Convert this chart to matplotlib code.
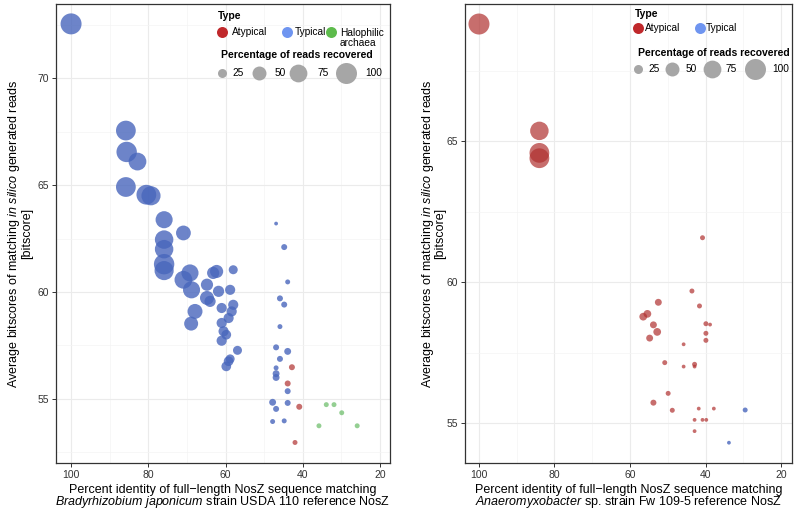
import numpy as np
import matplotlib
matplotlib.use("Agg")
import matplotlib.pyplot as plt
from matplotlib.ticker import MultipleLocator

plt.rcParams["font.family"] = ["Liberation Sans", "DejaVu Sans"]
plt.rcParams["mathtext.fontset"] = "custom"
plt.rcParams["mathtext.rm"] = "Liberation Sans"
plt.rcParams["mathtext.it"] = "Liberation Sans:italic"

# ---- left panel: Bradyrhizobium japonicum reference ----
left_typ_x = [100, 85.8, 85.6, 82.8, 85.8, 80.5, 79.3, 75.9, 70.9, 75.9, 75.9, 75.9, 75.9,
              69.2, 70.9, 62.3, 63.2, 58.0, 68.8, 64.8, 61.8, 58.8, 64.8, 64.0, 67.9, 68.9,
              61.0, 58.0, 58.4, 59.2, 61.0, 60.5, 59.8, 61.0, 56.9, 58.8, 59.2, 59.8,
              46.9, 44.8, 43.9, 45.9, 44.8, 45.9, 46.9, 43.9, 45.9, 46.9, 46.9, 46.9,
              43.9, 47.8, 43.9, 46.9, 47.8, 44.8]
left_typ_y = [72.54, 67.55, 66.55, 66.1, 64.91, 64.55, 64.5, 63.38, 62.76, 62.45, 62.0, 61.3, 61.0,
              60.89, 60.57, 60.96, 60.89, 61.04, 60.1, 60.34, 60.03, 60.1, 59.72, 59.56, 59.09, 58.52,
              59.25, 59.4, 59.09, 58.78, 58.55, 58.16, 58.0, 57.72, 57.27, 56.87, 56.76, 56.52,
              63.2, 62.1, 60.47, 59.7, 59.41, 58.38, 57.41, 57.22, 56.87, 56.45, 56.18, 56.0,
              55.36, 54.84, 54.81, 54.53, 53.94, 53.97]
left_typ_pct = [100, 90, 95, 75, 90, 90, 85, 70, 55, 80, 80, 95, 85,
                70, 75, 45, 40, 25, 70, 40, 35, 30, 50, 35, 56, 50,
                30, 30, 30, 30, 30, 30, 28, 30, 25, 25, 28, 28,
                8, 14, 11, 14, 14, 11, 14, 17, 14, 11, 17, 17,
                14, 17, 14, 14, 11, 11]

left_atyp_x = [42.8, 43.9, 40.9, 42.0]
left_atyp_y = [56.48, 55.72, 54.63, 52.96]
left_atyp_pct = [14, 14, 14, 11]

left_halo_x = [33.9, 31.9, 29.9, 35.8, 25.9]
left_halo_y = [54.73, 54.73, 54.35, 53.74, 53.74]
left_halo_pct = [11, 11, 11, 11, 11]

# ---- right panel: Anaeromyxobacter reference ----
right_atyp_x = [100, 84, 84, 84, 40.8, 43.6, 52.5, 41.6, 56.5, 55.4, 53.8, 39.9, 38.8, 52.8,
                39.9, 54.8, 39.9, 45.8, 50.8, 45.8, 42.9, 42.9, 49.9, 53.8, 48.8, 41.8,
                37.8, 42.9, 40.8, 39.8, 42.9]
right_atyp_y = [69.16, 65.37, 64.59, 64.4, 61.58, 59.69, 59.29, 59.16, 58.78, 58.88, 58.49,
                58.53, 58.5, 58.24, 58.19, 58.02, 57.94, 57.8, 57.15, 57.01, 57.09, 57.01,
                56.06, 55.73, 55.46, 55.52, 55.52, 55.12, 55.12, 55.12, 54.72]
right_atyp_pct = [100, 80, 90, 90, 11, 11, 17, 11, 20, 20, 17, 11, 8, 20,
                  11, 17, 11, 8, 11, 8, 11, 8, 11, 14, 11, 8,
                  8, 8, 8, 8, 8]

right_typ_x = [29.5, 33.8]
right_typ_y = [55.47, 54.31]
right_typ_pct = [11, 8]

size_breaks = [25, 50, 75, 100]

point_colors = {"Atypical": "#B0302F", "Typical": "#4866BC", "Halophilic": "#4DAF4A"}
point_alpha = {"Atypical": 0.7, "Typical": 0.8, "Halophilic": 0.6}
key_colors = {"Atypical": "#C0282B", "Typical": "#6F95F0", "Halophilic": "#5DBB4C"}


def diam_px(pct):
    return -3 + 2.4 * np.sqrt(np.asarray(pct, dtype=float))


def area_pt(pct):
    return (diam_px(pct) * 0.72) ** 2


fig = plt.figure(figsize=(8, 5.13), dpi=100)
W, H = 800, 513
ax_l = fig.add_axes([56 / W, 50 / H, 334 / W, 459 / H])
ax_r = fig.add_axes([465 / W, 50 / H, 327 / W, 459 / H])


def draw(ax, groups):
    for kind, xs, ys, pct in groups:
        ax.scatter(xs, ys, s=area_pt(pct), color=point_colors[kind],
                   alpha=point_alpha[kind], linewidths=0, zorder=3)


draw(ax_l, [("Typical", left_typ_x, left_typ_y, left_typ_pct),
            ("Atypical", left_atyp_x, left_atyp_y, left_atyp_pct),
            ("Halophilic", left_halo_x, left_halo_y, left_halo_pct)])
draw(ax_r, [("Atypical", right_atyp_x, right_atyp_y, right_atyp_pct),
            ("Typical", right_typ_x, right_typ_y, right_typ_pct)])

ax_l.set_xlim(103.9, 17.4)
ax_l.set_ylim(52.0, 73.47)
ax_r.set_xlim(103.7, 17.1)
ax_r.set_ylim(53.59, 69.87)

ylab = ("Average bitscores of matching $\\mathit{in\\ silico}$ generated reads\n"
        "[bitscore]")
xlab_l = ("Percent identity of full\u2212length NosZ sequence matching\n"
          "$\\mathit{Bradyrhizobium\\ japonicum}$ strain USDA 110 reference NosZ")
xlab_r = ("Percent identity of full\u2212length NosZ sequence matching\n"
          "$\\mathit{Anaeromyxobacter}$ sp. strain Fw 109-5 reference NosZ")

for ax, xlab, ylx in [(ax_l, xlab_l, -0.109), (ax_r, xlab_r, -0.098)]:
    ax.xaxis.set_major_locator(MultipleLocator(20))
    ax.xaxis.set_minor_locator(MultipleLocator(10))
    ax.yaxis.set_major_locator(MultipleLocator(5))
    ax.yaxis.set_minor_locator(MultipleLocator(2.5))
    ax.grid(which="major", color="#EBEBEB", lw=0.8)
    ax.grid(which="minor", color="#F4F4F4", lw=0.5)
    ax.set_axisbelow(True)
    ax.tick_params(which="major", direction="out", length=2.75, width=0.7,
                   color="#333333", labelsize=7.5, labelcolor="#333333", pad=2.2)
    ax.tick_params(which="minor", length=0)
    for sp in ax.spines.values():
        sp.set_color("#333333")
        sp.set_linewidth(0.9)
    ax.set_xlabel(xlab, fontsize=9, linespacing=0.85, va="center")
    ax.xaxis.set_label_coords(0.5, -0.074)
    ax.set_ylabel(ylab, fontsize=9, linespacing=0.85, va="center")
    ax.yaxis.set_label_coords(ylx, 0.5)

# ---- legends drawn in pixel coordinates on an overlay ----
ov = fig.add_axes([0, 0, 1, 1], zorder=10)
ov.set_xlim(0, W)
ov.set_ylim(H, 0)
ov.set_axis_off()


def legend(x0, types, type_pos, size_pos, size_title_y, type_title_y):
    ov.text(x0, type_title_y, "Type", fontsize=7.5, fontweight="bold",
            ha="left", va="center")
    for (kind, label), (cx, cy, tx, ty) in zip(types, type_pos):
        ov.scatter([cx], [cy], s=(11 * 0.72) ** 2, color=key_colors[kind],
                   linewidths=0)
        ov.text(tx, ty, label, fontsize=7.3, ha="left", va="center",
                linespacing=0.95)
    ov.text(x0 + 3, size_title_y, "Percentage of reads recovered", fontsize=7.5,
            fontweight="bold", ha="left", va="center")
    for b, (cx, tx, ty) in zip(size_breaks, size_pos):
        ov.scatter([cx], [ty], s=area_pt(b), color="#A6A6A6", linewidths=0)
        ov.text(tx, ty, str(b), fontsize=7.3, ha="left", va="center")


legend(218, [("Atypical", "Atypical"), ("Typical", "Typical"),
             ("Halophilic", "Halophilic\narchaea")],
       [(222, 32, 232, 32), (287, 32, 295, 32), (331, 32, 340, 38)],
       [(222.3, 232, 73), (258.7, 275, 73), (298, 318, 73), (346, 365, 73)],
       55, 16)
legend(634.7, [("Atypical", "Atypical"), ("Typical", "Typical")],
       [(638.3, 28.3, 644.5, 28.3), (700, 28.3, 706, 28.3)],
       [(637.7, 648.3, 69.3), (672, 686, 69.3), (711.7, 726, 69.3), (755, 772, 69.3)],
       53.3, 14)

fig.savefig("out.png", dpi=100)
